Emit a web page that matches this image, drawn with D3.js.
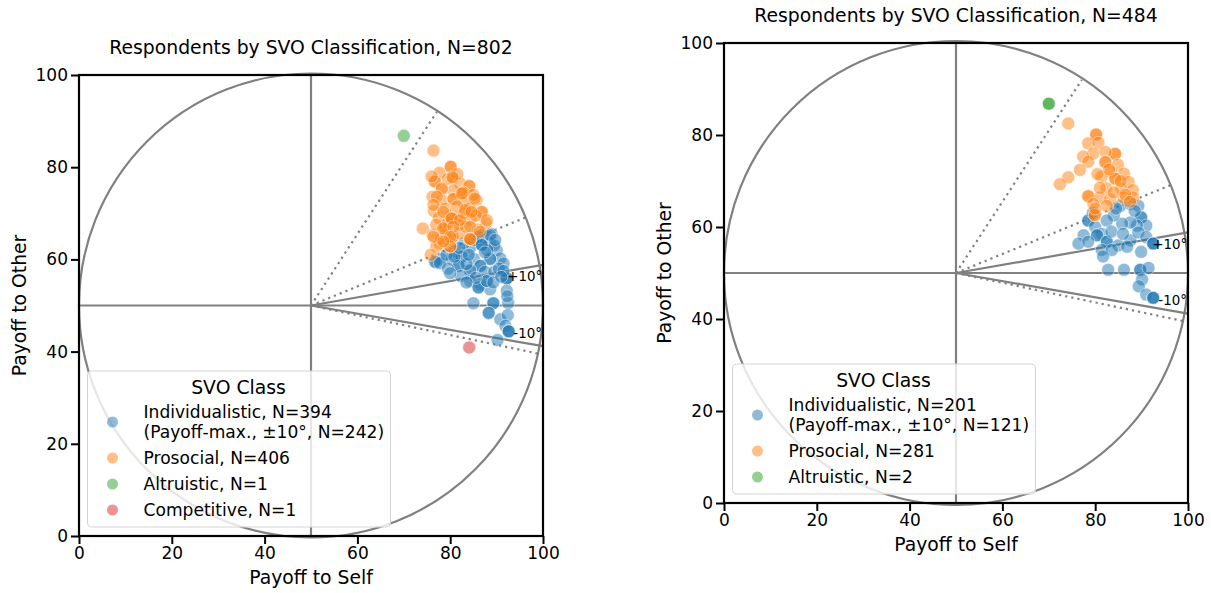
<!DOCTYPE html>
<html>
<head>
<meta charset="utf-8">
<script src="https://cdn.jsdelivr.net/npm/d3@7"></script>
<style>
  body { margin: 0; background: #fff; }
  svg { font-family: "DejaVu Sans", sans-serif; }
</style>
</head>
<body>
<div id="chart"></div>
<script>
// Tick values shared by both axes
const ticks = [0, 20, 40, 60, 80, 100];

// Left panel (N=802) - [payoff to self, payoff to other]; repeated points = overlapping respondents
const leftIndividualistic = [
  [87.1,65.3],[88.9,65.5],[88.6,63.6],[90.0,62.0],[90.8,60.2],[91.5,59.1],[86.8,63.2],[86.8,63.2],
  [84.3,62.5],[81.1,61.8],[82.5,60.6],[82.5,60.6],[78.1,60.1],[77.0,59.4],[80.4,60.1],[85.1,60.1],
  [88.6,60.1],[88.6,60.1],[86.5,58.6],[86.5,58.6],[81.8,58.6],[81.8,58.6],[84.3,57.6],[84.3,57.6],
  [87.5,57.3],[89.5,57.3],[82.3,56.4],[92.2,55.9],[92.2,55.9],[92.2,55.9],[84.3,55.3],[86.5,54.6],
  [88.6,53.5],[92.2,53.2],[86.1,53.9],[86.1,53.9],[87.9,55.3],[87.9,55.3],[89.3,55.0],[85.0,50.5],
  [89.3,50.5],[89.3,50.5],[92.5,50.5],[88.3,48.4],[88.3,48.4],[90.8,47.0],[92.4,47.9],[91.9,45.6],
  [92.6,44.4],[92.6,44.4],[92.6,44.4],[90.2,42.5],[76.7,59.5],[77.8,59.2],[79.2,61.0],[80.9,60.6],
  [83.0,63.5],[85.0,64.2],[89.5,63.0],[90.5,58.0],[91.5,57.5],[83.5,59.0],[79.5,58.0],[82.0,62.5],
  [85.5,56.0],[88.0,62.0],[83.5,55.0],[92.3,52.0],[91.0,56.2],[80.0,57.0],[86.1,64.9],[88.6,65.3],
  [89.7,64.2],[86.8,63.1],[87.5,61.5],[84.0,61.0]
];
const leftProsocial = [
  [76.4,83.6],[80.1,80.1],[80.1,80.1],[77.7,78.8],[76.7,76.9],[76.7,76.9],[80.7,77.6],[82.1,76.5],
  [84.1,75.9],[84.1,75.9],[80.7,75.0],[78.2,75.1],[76.2,73.6],[78.2,72.8],[80.7,73.1],[80.7,73.1],
  [82.8,74.5],[82.8,74.5],[82.9,72.3],[85.7,72.9],[84.2,71.1],[86.8,70.3],[86.8,70.3],[80.0,69.4],
  [81.5,69.1],[84.4,68.7],[87.7,67.8],[74.1,66.7],[76.2,65.3],[78.9,66.7],[78.9,66.7],[80.5,64.9],
  [80.5,64.9],[82.0,65.6],[84.2,64.4],[77.7,63.5],[77.0,62.8],[80.0,62.8],[80.0,62.8],[75.8,61.0],
  [76.5,70.5],[77.5,69.0],[79.0,71.0],[81.5,71.5],[83.0,70.0],[85.5,69.5],[79.5,77.5],[81.5,78.5],
  [83.5,67.0],[86.0,66.5],[78.0,64.5],[79.5,68.0],[82.0,67.5],[85.0,74.0],[77.0,67.5],[76.0,78.0],
  [80.5,77.8],[78.2,75.4],[82.5,74.3],[85.3,73.2],[77.1,73.6],[76.4,71.8],[78.5,70.3],[83.2,70.7],
  [84.6,70.3],[87.9,68.5],[80.3,68.9],[80.3,68.9],[82.1,68.5],[78.5,66.7],[80.7,67.1],[84.3,67.1],
  [86.4,66.0],[76.4,64.9],[80.0,64.9],[84.3,64.4],[84.3,64.4],[78.5,63.9]
];
const leftAltruistic = [[70.0,86.8]];
const leftCompetitive = [[84.1,40.9]];

// Right panel (N=484)
const rightIndividualistic = [
  [85.4,64.6],[87.6,65.0],[89.3,64.6],[89.9,62.1],[89.9,62.1],[91.0,60.3],[89.0,60.3],[87.6,61.0],
  [85.8,60.7],[84.0,62.5],[82.5,61.4],[78.5,61.4],[78.5,61.4],[80.0,60.0],[81.4,58.5],[80.4,58.2],
  [80.4,58.2],[77.5,58.2],[76.4,56.4],[78.5,56.8],[82.5,56.8],[82.5,56.8],[85.0,56.0],[87.6,57.1],
  [89.3,58.8],[91.0,57.8],[86.9,55.7],[92.5,56.4],[92.5,56.4],[92.5,56.4],[81.4,55.0],[83.6,55.0],
  [89.9,54.6],[81.7,53.6],[82.8,50.7],[86.2,50.7],[89.7,50.7],[89.7,50.7],[91.5,51.1],[90.1,48.6],
  [89.4,47.1],[91.0,45.3],[92.5,44.6],[92.5,44.6],[92.5,44.6],[79.5,63.0],[83.5,59.0],[86.0,58.5],
  [88.5,63.5],[84.5,64.0]
];
const rightProsocial = [
  [74.2,82.5],[80.2,80.1],[80.2,80.1],[78.5,78.2],[80.7,78.3],[84.3,75.9],[84.3,75.9],[79.6,76.0],
  [77.4,75.3],[82.2,76.3],[82.2,74.1],[82.2,74.1],[78.5,74.2],[84.9,73.5],[76.7,72.4],[74.2,70.8],
  [72.4,69.3],[83.4,71.9],[86.2,71.6],[81.3,70.9],[84.3,70.5],[84.3,70.5],[87.2,69.8],[82.4,68.4],
  [85.6,68.4],[88.1,68.0],[78.5,66.7],[78.5,66.7],[81.0,66.4],[83.2,66.0],[86.1,66.4],[88.2,66.4],
  [79.6,65.0],[82.5,64.6],[79.9,62.6],[79.9,62.6],[81.0,68.5],[84.0,67.5],[86.5,67.0],[80.5,71.5],
  [83.0,72.5],[85.5,70.0],[80.0,64.0],[87.5,65.5]
];
const rightAltruistic = [[70.0,86.8],[70.0,86.8]];

const leftLabels = ["Individualistic, N=394\n(Payoff-max., ±10°, N=242)", "Prosocial, N=406", "Altruistic, N=1", "Competitive, N=1"];
const rightLabels = ["Individualistic, N=201\n(Payoff-max., ±10°, N=121)", "Prosocial, N=281", "Altruistic, N=2"];
const colors = ["#1f77b4", "#ff7f0e", "#2ca02c", "#d62728"];

const svg = d3.select("#chart").append("svg")
  .attr("width", 1211).attr("height", 593);

function drawPanel(o) {
  const x = d3.scaleLinear().domain([0, 100]).range([o.left, o.right]);
  const y = d3.scaleLinear().domain([0, 100]).range([o.bottom, o.top]);
  const g = svg.append("g");
  const grey = "#808080";

  // Reference circle and cross
  g.append("circle")
    .attr("cx", x(50)).attr("cy", y(50))
    .attr("r", x(100) - x(50))
    .attr("fill", "none").attr("stroke", grey).attr("stroke-width", 2.2);
  g.append("line").attr("x1", x(50)).attr("x2", x(50)).attr("y1", y(0)).attr("y2", y(100))
    .attr("stroke", grey).attr("stroke-width", 2.2);
  g.append("line").attr("x1", x(0)).attr("x2", x(100)).attr("y1", y(50)).attr("y2", y(50))
    .attr("stroke", grey).attr("stroke-width", 2.2);

  // +/-10 degree solid lines
  [10, -10].forEach(a => {
    const r = a * Math.PI / 180;
    g.append("line")
      .attr("x1", x(50)).attr("y1", y(50))
      .attr("x2", x(100)).attr("y2", y(50 + 50 * Math.tan(r)))
      .attr("stroke", grey).attr("stroke-width", 2.2);
  });
  // Class boundaries (dotted)
  [22.45, 57.15, -12.04].forEach(a => {
    const r = a * Math.PI / 180;
    g.append("line")
      .attr("x1", x(50)).attr("y1", y(50))
      .attr("x2", x(50 + 50 * Math.cos(r))).attr("y2", y(50 + 50 * Math.sin(r)))
      .attr("stroke", grey).attr("stroke-width", 2.2)
      .attr("stroke-dasharray", "2.2,4");
  });

  // Points
  o.series.forEach((pts, i) => {
    g.selectAll(null).data(pts).enter().append("circle")
      .attr("cx", d => x(d[0])).attr("cy", d => y(d[1]))
      .attr("r", 6.5)
      .attr("fill", colors[i]).attr("fill-opacity", 0.5)
      .attr("stroke", "#fff").attr("stroke-opacity", 0.6).attr("stroke-width", 0.8);
  });

  g.append("text").attr("x", x(92.3)).attr("y", y(56.3)).attr("dy", "0.35em")
    .style("font-size", "13.4px").text("+10°");
  g.append("text").attr("x", x(93.6)).attr("y", y(44.0)).attr("dy", "0.35em")
    .style("font-size", "13.4px").text("-10°");

  // Axes
  const xa = g.append("g").attr("transform", `translate(0,${o.bottom})`)
    .call(d3.axisBottom(x).tickValues(ticks).tickSize(8).tickPadding(3).tickSizeOuter(0));
  const ya = g.append("g").attr("transform", `translate(${o.left},0)`)
    .call(d3.axisLeft(y).tickValues(ticks).tickSize(8).tickPadding(3).tickSizeOuter(0));
  [xa, ya].forEach(a => {
    a.select(".domain").remove();
    a.selectAll("line").attr("stroke", "#000").attr("stroke-width", 2);
    a.selectAll("text").style("font-size", "17px").style("font-family", "DejaVu Sans").attr("fill", "#000");
  });
  g.append("rect").attr("x", o.left).attr("y", o.top)
    .attr("width", o.right - o.left).attr("height", o.bottom - o.top)
    .attr("fill", "none").attr("stroke", "#000").attr("stroke-width", 2.2);

  // Titles
  g.append("text").attr("x", (o.left + o.right) / 2).attr("y", o.top - 21)
    .attr("text-anchor", "middle").style("font-size", "18.8px").text(o.title);
  g.append("text").attr("x", (o.left + o.right) / 2).attr("y", o.bottom + 48)
    .attr("text-anchor", "middle").style("font-size", "18.8px").text("Payoff to Self");
  g.append("text")
    .attr("transform", `translate(${o.left - 53},${(o.top + o.bottom) / 2}) rotate(-90)`)
    .attr("text-anchor", "middle").style("font-size", "18.8px").text("Payoff to Other");

  // Legend
  const lh = 26 * o.labels.length + 52;
  const lx = o.left + 8.5, ly = o.bottom - 9 - lh;
  const lg = g.append("g").attr("transform", `translate(${lx},${ly})`);
  lg.append("rect").attr("width", 303).attr("height", lh).attr("rx", 4)
    .attr("fill", "#fff").attr("fill-opacity", 0.8)
    .attr("stroke", "#d4d4d4").attr("stroke-width", 1);
  lg.append("text").attr("x", 151).attr("y", 16).attr("dy", "0.35em")
    .attr("text-anchor", "middle").style("font-size", "18.8px").text("SVO Class");
  let yy = 41;
  o.labels.forEach((lab, i) => {
    const lines = lab.split("\n");
    const my = yy + (lines.length - 1) * 10;
    lg.append("circle").attr("cx", 25).attr("cy", my).attr("r", 5.5)
      .attr("fill", colors[i]).attr("fill-opacity", 0.5);
    lines.forEach((l, k) => {
      lg.append("text").attr("x", 56).attr("y", yy + k * 20).attr("dy", "0.35em")
        .style("font-size", "17.1px").text(l);
    });
    yy += 26 + (lines.length - 1) * 20;
  });
}

drawPanel({
  left: 79, right: 543, top: 75, bottom: 536,
  title: "Respondents by SVO Classification, N=802",
  series: [leftIndividualistic, leftProsocial, leftAltruistic, leftCompetitive],
  labels: leftLabels
});
drawPanel({
  left: 724, right: 1188, top: 43, bottom: 503,
  title: "Respondents by SVO Classification, N=484",
  series: [rightIndividualistic, rightProsocial, rightAltruistic],
  labels: rightLabels
});
</script>
</body>
</html>
